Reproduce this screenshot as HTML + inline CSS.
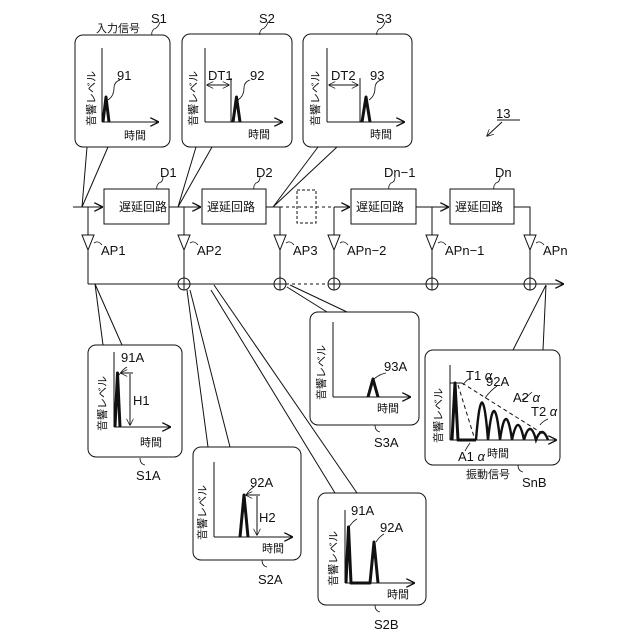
<!DOCTYPE html>
<html><head><meta charset="utf-8"><style>
html,body{margin:0;padding:0;background:#fff;width:640px;height:640px;overflow:hidden}
svg{display:block}
text{font-family:"Liberation Sans","Noto Sans CJK JP",sans-serif;fill:#111}
</style></head><body>
<svg width="640" height="640" viewBox="0 0 640 640" xmlns="http://www.w3.org/2000/svg">
<defs>
<marker id="ar" viewBox="0 0 10 10" refX="9" refY="5" markerWidth="9" markerHeight="9" markerUnits="userSpaceOnUse" orient="auto"><path d="M0,0 L10,5 L0,10" fill="none" stroke="#111" stroke-width="1.5"/></marker>
<marker id="ar2" viewBox="0 0 10 10" refX="9" refY="5" markerWidth="7" markerHeight="7" markerUnits="userSpaceOnUse" orient="auto-start-reverse"><path d="M0,0 L10,5 L0,10" fill="none" stroke="#111" stroke-width="1"/></marker>
</defs>
<g fill="none" stroke="#111" stroke-width="1">
<!-- top callout boxes -->
<rect x="75" y="35" width="95" height="112" rx="8" fill="#fff"/>
<rect x="182" y="34" width="110" height="113" rx="8" fill="#fff"/>
<rect x="303" y="34" width="109" height="113" rx="8" fill="#fff"/>
<path d="M87,147 L82,207 M108,147 L82,207"/>
<path d="M196,147 L178,207 M212,147 L178,207"/>
<path d="M318,147 L273,207 M337,147 L273,207"/>
<!-- main line -->
<path d="M73,207 H102" marker-end="url(#ar)"/>
<rect x="104" y="189" width="65" height="35"/>
<path d="M169,207 H200" marker-end="url(#ar)"/>
<rect x="202" y="189" width="64" height="35"/>
<path d="M266,207 H280"/>
<path d="M280,207 H349" stroke-dasharray="3,3"/>
<rect x="297" y="190" width="19" height="33" stroke-dasharray="3,2"/>
<path d="M334,207 H349" marker-end="url(#ar)"/>
<rect x="351" y="189" width="65" height="35"/>
<path d="M416,207 H448" marker-end="url(#ar)"/>
<rect x="450" y="189" width="64" height="35"/>
<path d="M514,207 H530 V235"/>
<!-- taps -->
<path d="M88,207 V235 M184,207 V235 M280,207 V235 M334,207 V235 M432,207 V235"/>
<g>
<path d="M82,235 H94 L88,250 Z"/><path d="M178,235 H190 L184,250 Z"/><path d="M274,235 H286 L280,250 Z"/>
<path d="M328,235 H340 L334,250 Z"/><path d="M426,235 H438 L432,250 Z"/><path d="M524,235 H536 L530,250 Z"/>
</g>
<path d="M88,250 V284 M184,250 V278 M280,250 V278 M334,250 V278 M432,250 V278 M530,250 V278"/>
<path d="M94,243 q4,-3 8,2 M190,243 q4,-3 8,2 M286,243 q4,-3 8,2 M340,243 q4,-3 8,2 M438,243 q4,-3 8,2 M536,243 q4,-3 8,2" stroke-width="0.8"/>
<!-- bus -->
<path d="M88,284 H280"/>
<path d="M280,284 H334" stroke-dasharray="3,3"/>
<path d="M334,284 H563" marker-end="url(#ar)"/>
<g fill="#fff">
<circle cx="184" cy="284" r="6"/><circle cx="280" cy="284" r="6"/><circle cx="334" cy="284" r="6"/><circle cx="432" cy="284" r="6"/><circle cx="530" cy="284" r="6"/>
</g>
<path d="M178,284 H190 M184,278 V290 M274,284 H286 M280,278 V290 M328,284 H340 M334,278 V290 M426,284 H438 M432,278 V290 M524,284 H536 M530,278 V290"/>
<!-- bottom callout pointers -->
<path d="M95,284 L103,345 M95,284 L122,345"/>
<path d="M187,290 L208,447 M190,290 L230,447"/>
<path d="M287,287 L327,312 M290,285 L347,312"/>
<path d="M211,290 L335,493 M214,285 L357,493"/>
<path d="M546,285 L513,350 M546,285 L543,350"/>
<!-- bottom boxes -->
<rect x="88" y="345" width="94" height="112" rx="8" fill="#fff"/>
<rect x="193" y="447" width="108" height="113" rx="8" fill="#fff"/>
<rect x="310" y="312" width="109" height="113" rx="8" fill="#fff"/>
<rect x="318" y="493" width="108" height="112" rx="8" fill="#fff"/>
<rect x="425" y="350" width="135" height="115" rx="8" fill="#fff"/>
<!-- label squiggles -->
<path d="M160,22 q-2,6 -6,7 q-3,3 -2,6 M268,22 q-2,6 -6,7 q-3,3 -2,6 M385,22 q-2,6 -6,7 q-3,3 -2,6" stroke-width="0.8"/>
<path d="M163,177 q0,5 -4,6 q-3,3 -2,6 M260,177 q0,5 -4,6 q-3,3 -2,6 M395,177 q0,5 -4,6 q-3,3 -2,6 M500,177 q0,5 -4,6 q-3,3 -2,6" stroke-width="0.8"/>
<path d="M140,458 q0,6 5,7 M262,560 q0,6 5,7 M375,425 q0,6 5,7 M375,605 q0,6 5,7 M518,465 q0,6 5,7" stroke-width="0.8"/>
<path d="M502,122 L487,136" marker-end="url(#ar2)"/>
<path d="M497,120 H520"/>
<!-- axes -->
<path d="M102,122 V48 M102,122 H158" marker-end="url(#ar)"/>
<path d="M205,122 V48 M205,122 H282" marker-end="url(#ar)"/>
<path d="M327,122 V48 M327,122 H404" marker-end="url(#ar)"/>
<path d="M114,427 V352 M114,427 H170" marker-end="url(#ar)"/>
<path d="M214,537 V462 M214,537 H292" marker-end="url(#ar)"/>
<path d="M333,397 V322 M333,397 H410" marker-end="url(#ar)"/>
<path d="M345,583 V510 M345,583 H414" marker-end="url(#ar)"/>
<path d="M450,440 V365 M450,440 H556" marker-end="url(#ar)"/>
<!-- dims -->
<path d="M207,85 H229" marker-start="url(#ar2)" marker-end="url(#ar2)"/>
<path d="M231,78 V122"/>
<path d="M329,85 H358" marker-start="url(#ar2)" marker-end="url(#ar2)"/>
<path d="M360,78 V122"/>
<path d="M121,373 H133 M130,374 V425" marker-start="url(#ar2)" marker-end="url(#ar2)"/>
<path d="M246,495 H260 M257,496 V535" marker-start="url(#ar2)" marker-end="url(#ar2)"/>
<path d="M450,383 H462"/>
<!-- leaders -->
<path d="M108,100 q6,-4 6,-12 q0,-6 6,-8 M238,100 q6,-4 6,-12 q0,-6 6,-8 M369,100 q6,-4 6,-12 q0,-6 6,-8" stroke-width="0.8"/>
<path d="M119,375 q4,-6 8,-8 M246,495 q4,-6 8,-8 M374,379 q6,-5 12,-6 M349,527 q4,-6 8,-8 M376,542 q4,-6 8,-8" stroke-width="0.8"/>
<!-- dashed decay lines -->
<path d="M458,385 L475,440" stroke-dasharray="4,3"/>
<path d="M462,383 L548,437" stroke-dasharray="4,3"/>
<path d="M463,385 q3,-5 8,-7 M485,398 q6,-8 12,-12 M522,400 q5,-3 10,-8 M540,425 q3,-4 8,-6 M470,443 q-3,4 -5,8" stroke-width="0.8"/>
</g>
<!-- pulses -->
<g fill="none" stroke="#111" stroke-width="3" stroke-linejoin="round">
<path d="M103,122 L106,97 L109,122"/>
<path d="M233,122 L236.5,97 L240,122"/>
<path d="M362,122 L366,97 L370,122"/>
<path d="M115,427 L117.5,373 L120,427"/>
<path d="M240,537 L244,495 L248,537"/>
<path d="M368,397 L373,379 L378,397"/>
<path d="M346,583 L348.5,527 L351,583 H370 L374,542 L378,583"/>
<path d="M452,440 L455,383 L458,440 H476"/>
</g>
<g fill="none" stroke="#111" stroke-width="2.4">
<path d="M476,440 Q482,365 488,440 Q494,382 500,440 Q506,398 512,440 Q518,410 524,440 Q530,418 536,440 Q542,424 548,440"/>
</g>
<!-- text -->
<g font-size="13">
<text x="151" y="23">S1</text><text x="259" y="23">S2</text><text x="376" y="23">S3</text>
<text x="96" y="32" font-size="11">入力信号</text>
<text x="160" y="177">D1</text><text x="256" y="177">D2</text><text x="384" y="177">Dn−1</text><text x="495" y="177">Dn</text>
<text x="496" y="118">13</text>
<text x="117" y="80">91</text><text x="250" y="80">92</text><text x="370" y="80">93</text>
<text x="208" y="80">DT1</text><text x="331" y="80">DT2</text>
<text x="101" y="255">AP1</text><text x="197" y="255">AP2</text><text x="293" y="255">AP3</text>
<text x="347" y="255">APn−2</text><text x="445" y="255">APn−1</text><text x="543" y="255">APn</text>
<text x="121" y="362">91A</text><text x="133" y="405">H1</text>
<text x="250" y="487">92A</text><text x="259" y="522">H2</text>
<text x="384" y="371">93A</text>
<text x="351" y="515">91A</text><text x="380" y="532">92A</text>
<text x="136" y="480">S1A</text><text x="258" y="584">S2A</text><text x="374" y="447">S3A</text>
<text x="374" y="629">S2B</text><text x="522" y="487">SnB</text>
<text x="466" y="380">T1 <tspan font-style="italic">α</tspan></text>
<text x="486" y="386">92A</text>
<text x="513" y="402">A2 <tspan font-style="italic">α</tspan></text>
<text x="531" y="416">T2 <tspan font-style="italic">α</tspan></text>
<text x="458" y="461">A1 <tspan font-style="italic">α</tspan></text>
</g>
<g font-size="12">
<text x="119" y="211">遅延回路</text><text x="207" y="211">遅延回路</text><text x="356" y="211">遅延回路</text><text x="455" y="211">遅延回路</text>
</g>
<g font-size="11">
<text x="124" y="139">時間</text><text x="248" y="138">時間</text><text x="370" y="138">時間</text>
<text x="140" y="446">時間</text><text x="262" y="552">時間</text><text x="377" y="412">時間</text>
<text x="387" y="598">時間</text><text x="487" y="457">時間</text>
<text x="466" y="478">振動信号</text>
<text transform="translate(95,126) rotate(-90)">音響レベル</text>
<text transform="translate(197,126) rotate(-90)">音響レベル</text>
<text transform="translate(319,126) rotate(-90)">音響レベル</text>
<text transform="translate(106,431) rotate(-90)">音響レベル</text>
<text transform="translate(206,540) rotate(-90)">音響レベル</text>
<text transform="translate(325,400) rotate(-90)">音響レベル</text>
<text transform="translate(337,586) rotate(-90)">音響レベル</text>
<text transform="translate(442,443) rotate(-90)">音響レベル</text>
</g>
</svg>
</body></html>
